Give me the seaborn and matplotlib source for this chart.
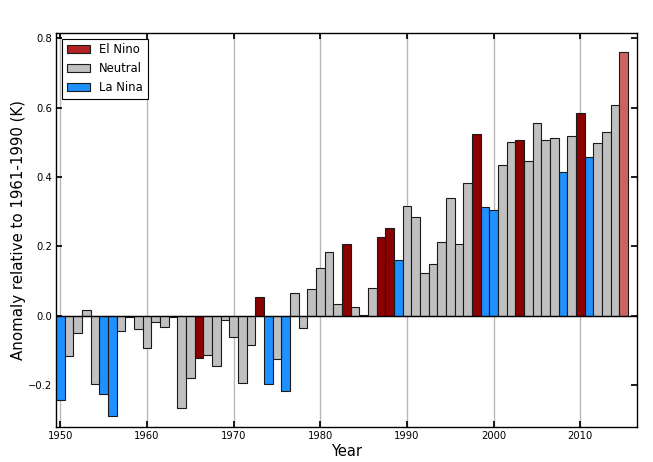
"""Annual global temperature anomaly 1950-2015, bars coloured by ENSO phase."""

import matplotlib

matplotlib.use("Agg")
import matplotlib.pyplot as plt
from matplotlib.patches import Patch
import pandas as pd
import seaborn as sns

years = list(range(1950, 2016))

anomaly = [
    -0.242, -0.117, -0.050, 0.017, -0.196, -0.227, -0.290, -0.045, -0.003, -0.038,   # 1950s
    -0.093, -0.017, -0.032, -0.003, -0.267, -0.180, -0.121, -0.113, -0.144, -0.012,  # 1960s
    -0.060, -0.194, -0.084, 0.053, -0.197, -0.125, -0.218, 0.067, -0.036, 0.077,     # 1970s
    0.138, 0.183, 0.035, 0.208, 0.024, 0.002, 0.081, 0.228, 0.252, 0.162,            # 1980s
    0.316, 0.285, 0.124, 0.150, 0.214, 0.339, 0.207, 0.384, 0.525, 0.315,            # 1990s
    0.304, 0.434, 0.501, 0.506, 0.447, 0.556, 0.507, 0.514, 0.415, 0.519,            # 2000s
    0.585, 0.458, 0.499, 0.531, 0.608, 0.762,                                        # 2010s
]

# E = El Nino, N = neutral, L = La Nina, P = El Nino year still in progress (2015)
phase_codes = (
    "LNNNNLLNNN"   # 1950s
    "NNNNNNENNN"   # 1960s
    "NNNELNLNNN"   # 1970s
    "NNNENNNEEL"   # 1980s
    "NNNNNNNNEL"   # 1990s
    "LNNENNNNLN"   # 2000s
    "ELNNNP"       # 2010s
)
phase_names = {"E": "El Nino", "N": "Neutral", "L": "La Nina", "P": "El Nino (2015)"}
phase = [phase_names[c] for c in phase_codes]

bar_colors = {
    "El Nino": "#8B0000",
    "Neutral": "#C0C0C0",
    "La Nina": "#1E90FF",
    "El Nino (2015)": "#CC6262",
}
legend_colors = {"El Nino": "#B22222", "Neutral": "#C0C0C0", "La Nina": "#1E90FF"}

df = pd.DataFrame({"year": years, "anomaly": anomaly, "phase": phase})

sns.set_theme(style="white")
plt.rcParams["font.family"] = ["DejaVu Sans"]
plt.rcParams.update({
    "xtick.direction": "in", "ytick.direction": "in",
    "xtick.top": True, "ytick.right": True,
    "xtick.bottom": True, "ytick.left": True,
    "xtick.major.size": 4, "ytick.major.size": 4,
    "axes.edgecolor": "black", "axes.linewidth": 1.0,
    "text.color": "black", "axes.labelcolor": "black",
    "xtick.color": "black", "ytick.color": "black",
})

fig, ax = plt.subplots(figsize=(6.53, 4.62), dpi=100)
fig.subplots_adjust(left=0.0858, right=0.975, bottom=0.0764, top=0.929)

sns.barplot(data=df, x="year", y="anomaly", hue="phase", palette=bar_colors,
            native_scale=True, dodge=False, width=1.0, saturation=1,
            edgecolor="#1a1a1a", linewidth=0.8, errorbar=None, legend=False,
            ax=ax, zorder=2)

ax.axhline(0, color="black", lw=1.0, zorder=3)
ax.set_axisbelow(True)
ax.xaxis.grid(True, color="#b8b8b8", lw=1.0)
ax.yaxis.grid(False)

ax.set_xlim(1949.5, 2016.5)
ax.set_ylim(-0.32, 0.816)
ax.set_xticks(range(1950, 2011, 10))
ax.set_xticklabels([str(y) for y in range(1950, 2011, 10)])
ax.set_yticks([-0.2, 0.0, 0.2, 0.4, 0.6, 0.8])
ax.set_yticklabels(["\u22120.2", "0.0", "0.2", "0.4", "0.6", "0.8"])
ax.tick_params(labelsize=7.2, colors="black", pad=3)

ax.set_xlabel("Year", fontsize=10.5, labelpad=2, color="black")
ax.set_ylabel("Anomaly relative to 1961-1990 (K)", fontsize=10.8, labelpad=1,
              color="black")

handles = [Patch(facecolor=c, edgecolor="#1a1a1a", lw=0.8, label=k)
           for k, c in legend_colors.items()]
leg = ax.legend(handles=handles, loc="upper left", fontsize=8.4, frameon=True,
                fancybox=False, framealpha=1, edgecolor="black",
                borderaxespad=0.5, handlelength=2.0)
leg.get_frame().set_linewidth(0.8)

fig.savefig("out.png", dpi=100)
